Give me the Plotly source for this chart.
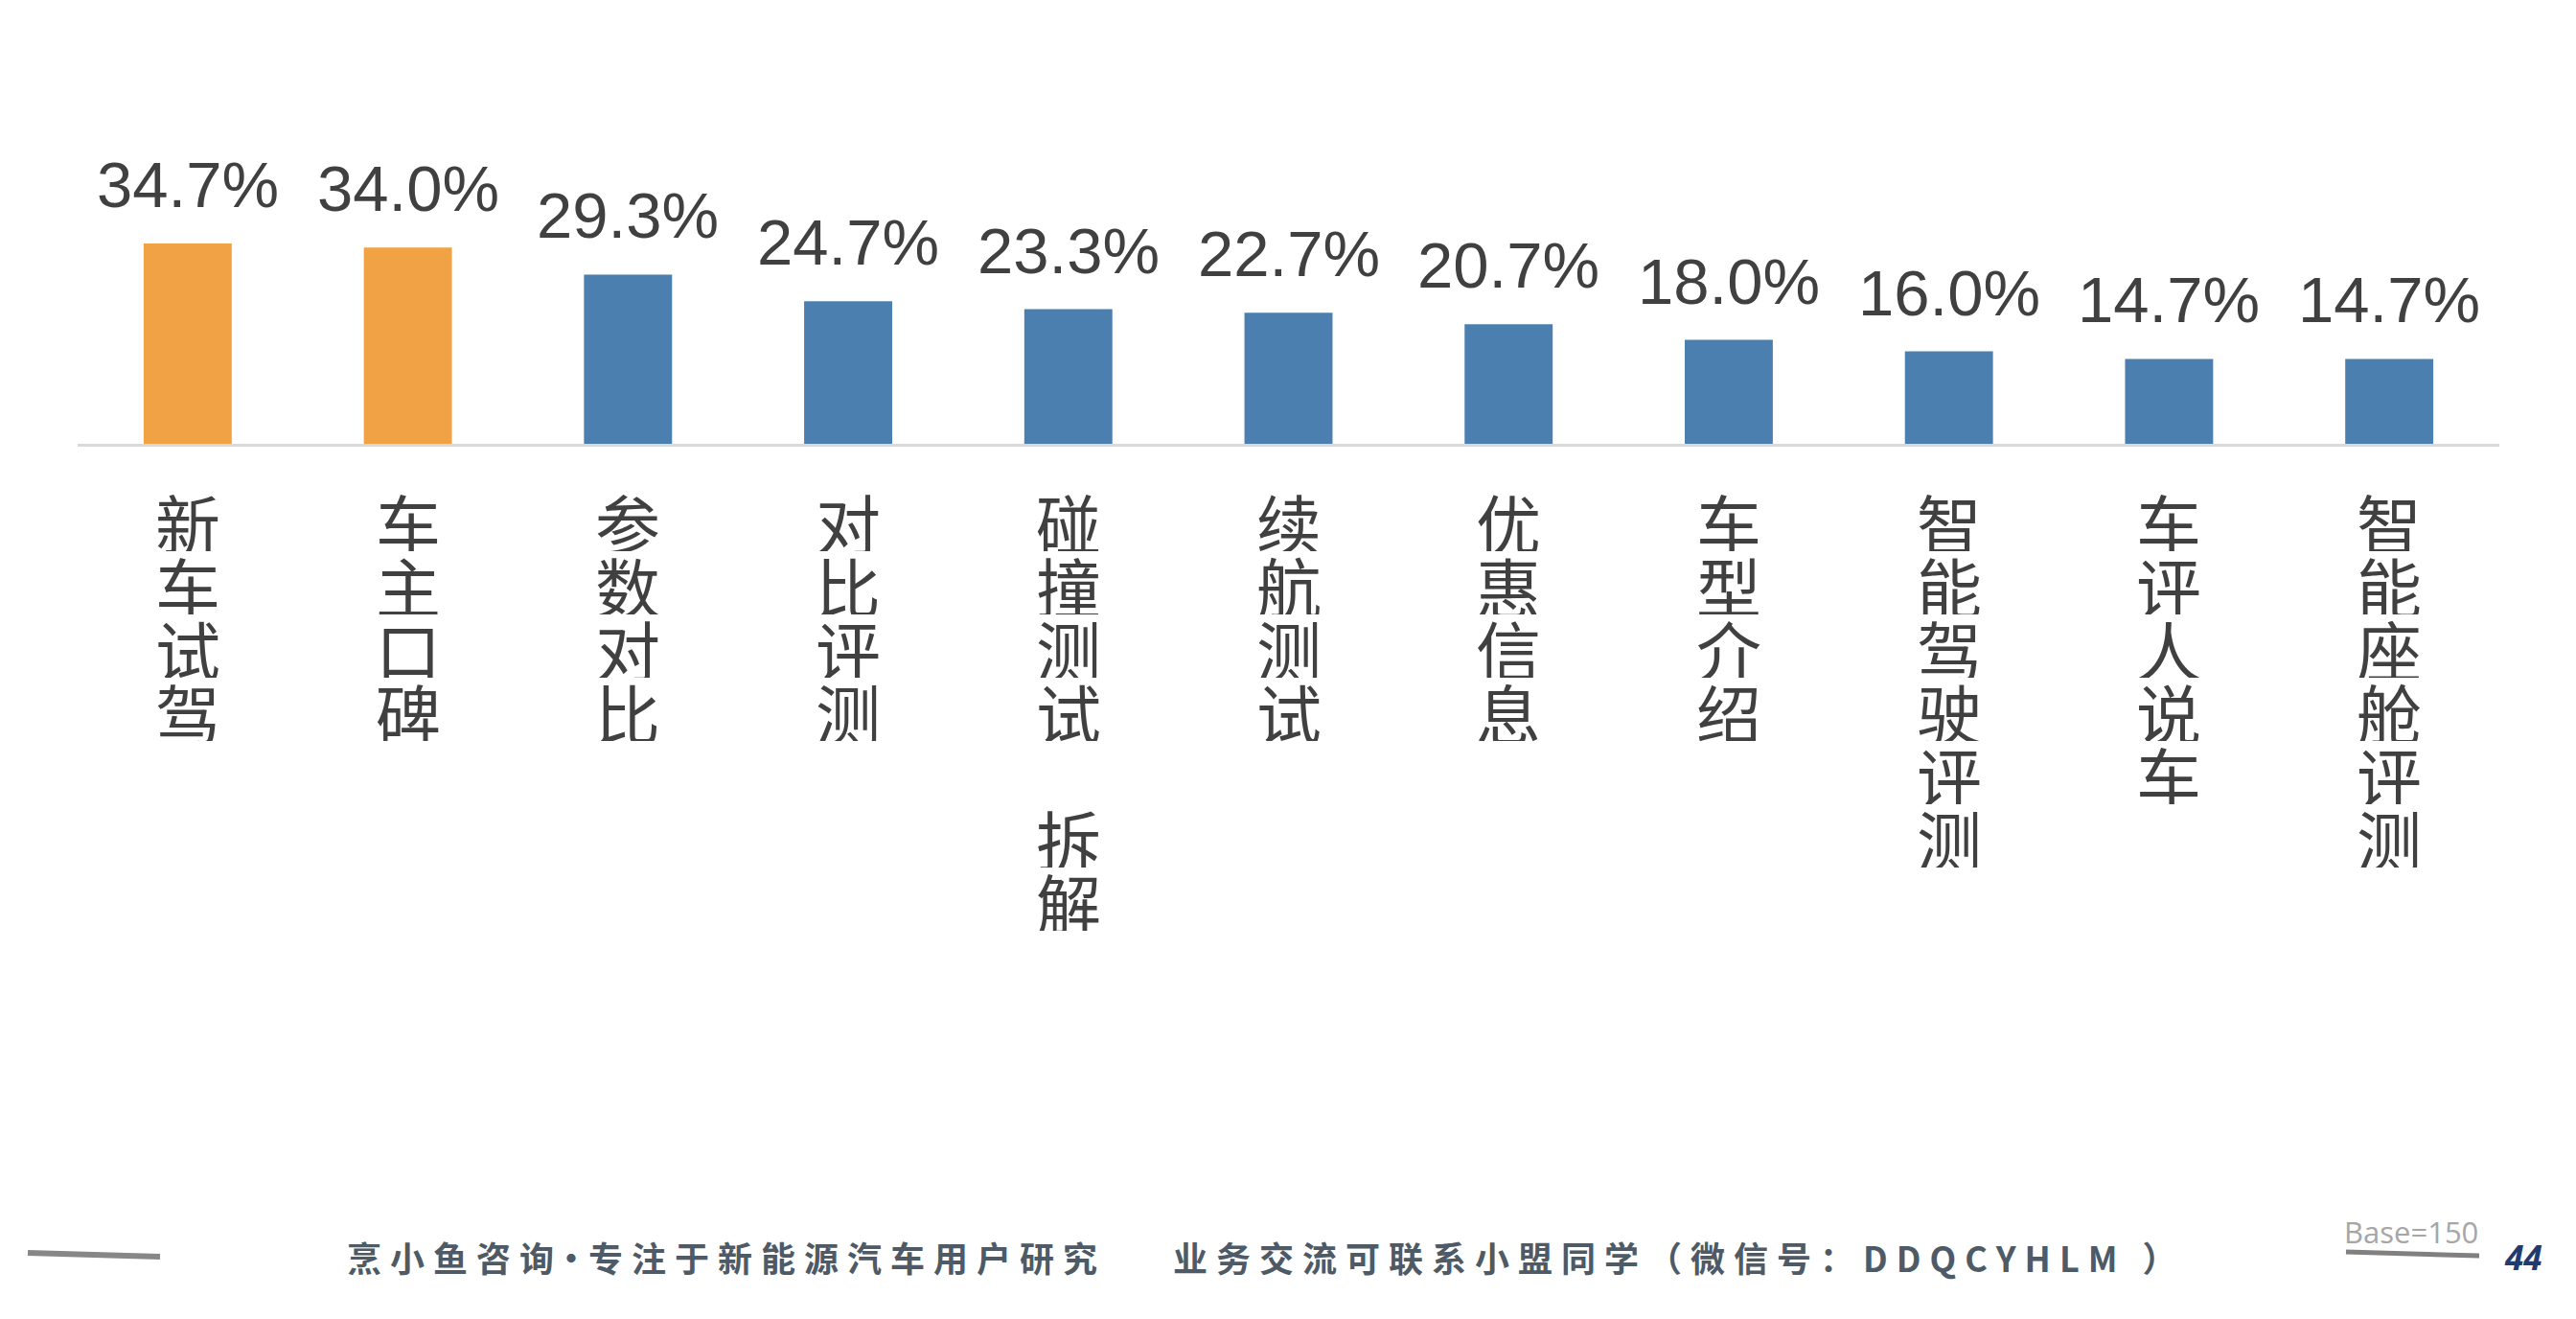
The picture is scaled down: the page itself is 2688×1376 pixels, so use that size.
import plotly.graph_objects as go

# ---------------- data ----------------
categories = ["新车试驾", "车主口碑", "参数对比", "对比评测", "碰撞测试 拆解", "续航测试",
              "优惠信息", "车型介绍", "智能驾驶评测", "车评人说车", "智能座舱评测"]
values = [34.7, 34.0, 29.3, 24.7, 23.3, 22.7, 20.7, 18.0, 16.0, 14.7, 14.7]
highlight_top_n = 2
footer_left = "烹小鱼咨询·专注于新能源汽车用户研究"
footer_right = "业务交流可联系小盟同学（微信号：DDQCYHLM ）"
base_text = "Base=150"
page_no = "44"

# ---------------- layout geometry ----------------
W_FIG, H_FIG = 2688, 1376
M_L, M_R, M_T, M_B = 81, 80, 222, 913
PW = W_FIG - M_L - M_R
PH = H_FIG - M_T - M_B


def px_x(px):
    return (px - M_L) / PW


def px_y(py):
    return (H_FIG - M_B - py) / PH


def spaced(s, sp="\u2005"):
    out = ""
    for i, ch in enumerate(s):
        out += ch
        if i < len(s) - 1 and ch != "·" and s[i + 1] != "·":
            out += sp
    return out


ORANGE = "#F1A244"
BLUE = "#4A7FAF"
colors = [ORANGE if i < highlight_top_n else BLUE for i in range(len(values))]

fig = go.Figure()
fig.add_trace(go.Bar(
    x=categories, y=values, marker=dict(color=colors, line=dict(width=0)),
    width=0.4, hoverinfo="skip",
))

annotations = []
# value labels
for c, v in zip(categories, values):
    annotations.append(dict(
        x=c, y=v, xref="x", yref="y", text=f"{v:.1f}%", showarrow=False,
        yanchor="bottom", xanchor="center", yshift=22,
        font=dict(family="Liberation Sans, Arial", size=67, color="#404040"),
    ))

# vertical category labels (one glyph per line)
PITCH = 66
FIRST = 81
for c in categories:
    k = 0
    for ch in c:
        if ch != " ":
            annotations.append(dict(
                x=c, y=0, xref="x", yref="y", text=ch, showarrow=False,
                yanchor="middle", xanchor="center", yshift=-(FIRST + k * PITCH),
                height=PITCH - 4, width=PITCH,
                font=dict(family="Noto Sans CJK SC", size=68, color="#404040"),
            ))
        k += 1

# footer
foot_font = dict(family="Noto Sans CJK SC", size=36, color="#4E5A65", weight="bold")
annotations.append(dict(
    x=px_x(360), y=px_y(1311), xref="paper", yref="paper", text=spaced(footer_left),
    showarrow=False, xanchor="left", yanchor="middle", font=foot_font,
))
annotations.append(dict(
    x=px_x(1222), y=px_y(1311), xref="paper", yref="paper", text=spaced(footer_right),
    showarrow=False, xanchor="left", yanchor="middle", font=foot_font,
))
annotations.append(dict(
    x=px_x(2516), y=px_y(1285), xref="paper", yref="paper", text=base_text,
    showarrow=False, xanchor="center", yanchor="middle",
    font=dict(family="Open Sans", size=31, color="#A6A6A6"),
))
annotations.append(dict(
    x=px_x(2633), y=px_y(1311), xref="paper", yref="paper", text=f"<b><i>{page_no}</i></b>",
    showarrow=False, xanchor="center", yanchor="middle",
    font=dict(family="Open Sans", size=35, color="#1F3B6F"),
))

shapes = [
    dict(type="line", xref="paper", yref="paper", x0=px_x(29), y0=px_y(1307),
         x1=px_x(167), y1=px_y(1311), line=dict(color="#878787", width=6)),
    dict(type="line", xref="paper", yref="paper", x0=px_x(2448), y0=px_y(1306),
         x1=px_x(2587), y1=px_y(1310), line=dict(color="#808080", width=5)),
]

fig.update_layout(
    width=W_FIG, height=H_FIG,
    margin=dict(l=M_L, r=M_R, t=M_T, b=M_B, pad=0),
    paper_bgcolor="white", plot_bgcolor="white",
    showlegend=False, bargap=0.6,
    annotations=annotations, shapes=shapes,
    xaxis=dict(showticklabels=False, showgrid=False, zeroline=False, ticks="",
               showline=True, linecolor="#D9D9D9", linewidth=3),
    yaxis=dict(range=[0, 40], visible=False, showgrid=False, zeroline=False),
)

fig.write_html("out.html", config={"displayModeBar": False})
